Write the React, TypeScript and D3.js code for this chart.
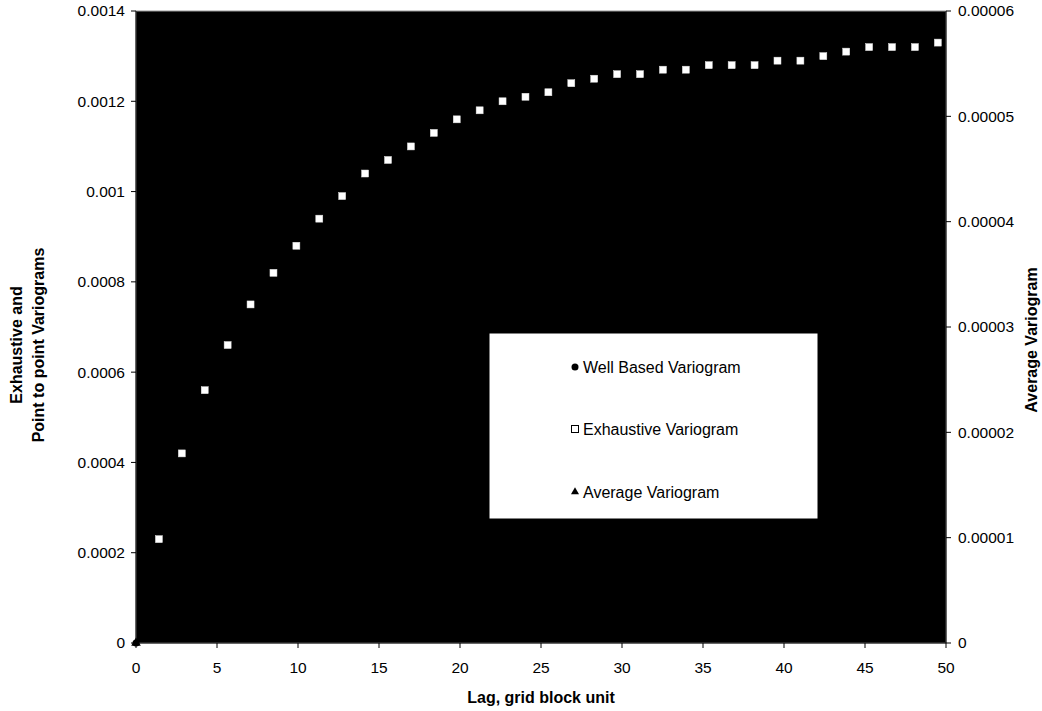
import React from "react";
import * as d3 from "d3";

const lagStep = Math.SQRT2;
const exhaustiveValues = [
  0.00023, 0.00042, 0.00056, 0.00066, 0.00075, 0.00082, 0.00088, 0.00094, 0.00099,
  0.00104, 0.00107, 0.0011, 0.00113, 0.00116, 0.00118, 0.0012, 0.00121, 0.00122,
  0.00124, 0.00125, 0.00126, 0.00126, 0.00127, 0.00127, 0.00128, 0.00128, 0.00128,
  0.00129, 0.00129, 0.0013, 0.00131, 0.00132, 0.00132, 0.00132, 0.00133,
];
const wellBased = [{ lag: 0, value: 0 }];
const averageVariogram = [{ lag: 0, value: 0 }];
const xTicks = [0, 5, 10, 15, 20, 25, 30, 35, 40, 45, 50];
const yLeftTicks = [0, 0.0002, 0.0004, 0.0006, 0.0008, 0.001, 0.0012, 0.0014];
const yLeftLabels = ["0", "0.0002", "0.0004", "0.0006", "0.0008", "0.001", "0.0012", "0.0014"];
const yRightTicks = [0, 0.00001, 0.00002, 0.00003, 0.00004, 0.00005, 0.00006];
const yRightLabels = ["0", "0.00001", "0.00002", "0.00003", "0.00004", "0.00005", "0.00006"];
const legendItems = ["Well Based Variogram", "Exhaustive Variogram", "Average Variogram"];

const W = 1042;
const H = 711;
const left = 136;
const right = 946;
const top = 11;
const bottom = 643;
const FONT = "'Liberation Sans', Arial, sans-serif";

export default function App() {
  const x = d3.scaleLinear().domain([0, 50]).range([left, right]);
  const yL = d3.scaleLinear().domain([0, 0.0014]).range([bottom, top]);
  const yR = d3.scaleLinear().domain([0, 0.00006]).range([bottom, top]);
  const exhaustive = exhaustiveValues.map((v, i) => ({ lag: (i + 1) * lagStep, value: v }));
  const tri = d3.symbol().type(d3.symbolTriangle).size(40)() as string;
  const triSmall = d3.symbol().type(d3.symbolTriangle).size(28)() as string;

  const legX = 489, legY = 333, legW = 329, legH = 186;
  const legRows = [367, 429, 492];

  return (
    <svg width={W} height={H} style={{ position: "absolute", left: 0, top: 0 }} fontFamily={FONT}>
      <rect x={0} y={0} width={W} height={H} fill="#fff" />
      <rect x={left} y={top} width={right - left} height={bottom - top} fill="#000" stroke="#999" strokeWidth={1} />
      {/* left axis */}
      <line x1={left} x2={left} y1={top} y2={bottom} stroke="#000" />
      {yLeftTicks.map((t, i) => (
        <g key={"yl" + i}>
          <line x1={left - 5} x2={left} y1={yL(t)} y2={yL(t)} stroke="#000" />
          <text x={left - 11} y={yL(t)} dy="0.35em" textAnchor="end" fontSize={15.5} fill="#000">
            {yLeftLabels[i]}
          </text>
        </g>
      ))}
      {/* right axis */}
      <line x1={right} x2={right} y1={top} y2={bottom} stroke="#000" />
      {yRightTicks.map((t, i) => (
        <g key={"yr" + i}>
          <line x1={right} x2={right + 5} y1={yR(t)} y2={yR(t)} stroke="#000" />
          <text x={right + 12} y={yR(t)} dy="0.35em" textAnchor="start" fontSize={15.5} fill="#000">
            {yRightLabels[i]}
          </text>
        </g>
      ))}
      {/* bottom axis */}
      <line x1={left} x2={right} y1={bottom} y2={bottom} stroke="#000" />
      {xTicks.map((t) => (
        <g key={"x" + t}>
          <line x1={x(t)} x2={x(t)} y1={bottom} y2={bottom + 5} stroke="#000" />
          <text x={x(t)} y={673} textAnchor="middle" fontSize={15.5} fill="#000">
            {t}
          </text>
        </g>
      ))}
      {/* data */}
      {exhaustive.map((d, i) => (
        <rect key={"e" + i} x={x(d.lag) - 3.5} y={yL(d.value) - 3.5} width={7} height={7} fill="#fff" stroke="#ddd" strokeWidth={0.5} />
      ))}
      {wellBased.map((d, i) => (
        <circle key={"w" + i} cx={x(d.lag)} cy={yL(d.value)} r={3.5} fill="#000" />
      ))}
      {averageVariogram.map((d, i) => (
        <path key={"a" + i} d={tri} transform={`translate(${x(d.lag)},${yR(d.value)})`} fill="#000" />
      ))}
      {/* legend */}
      <rect x={legX} y={legY} width={legW} height={legH} fill="#fff" stroke="#000" strokeWidth={1} />
      <circle cx={575} cy={legRows[0]} r={3.5} fill="#000" />
      <rect x={571.5} y={legRows[1] - 3.5} width={7} height={7} fill="#fff" stroke="#000" strokeWidth={1} />
      <path d={triSmall} transform={`translate(575,${legRows[2]})`} fill="#000" />
      {legendItems.map((s, i) => (
        <text key={s} x={583} y={legRows[i]} dy="0.35em" fontSize={16} fill="#000">
          {s}
        </text>
      ))}
      {/* titles */}
      <text x={541} y={703} textAnchor="middle" fontSize={16} fontWeight="bold" fill="#000">
        Lag, grid block unit
      </text>
      <text transform="translate(22,345) rotate(-90)" textAnchor="middle" fontSize={16} fontWeight="bold" fill="#000">
        Exhaustive and
      </text>
      <text transform="translate(44,345) rotate(-90)" textAnchor="middle" fontSize={16} fontWeight="bold" fill="#000">
        Point to point Variograms
      </text>
      <text transform="translate(1037,340) rotate(-90)" textAnchor="middle" fontSize={16} fontWeight="bold" fill="#000">
        Average Variogram
      </text>
    </svg>
  );
}
